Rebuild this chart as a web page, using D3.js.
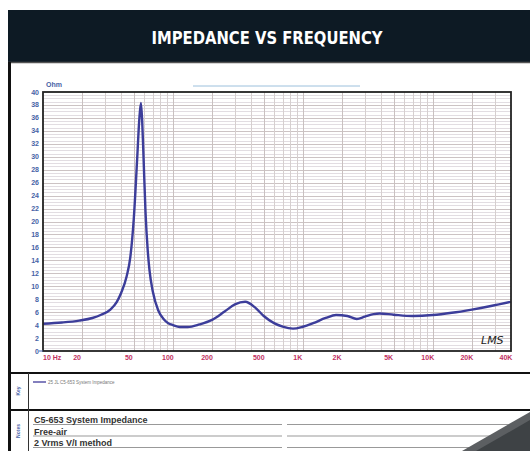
<!DOCTYPE html>
<html>
<head>
<meta charset="utf-8">
<script src="https://cdn.jsdelivr.net/npm/d3@7"></script>
<style>
  html, body { margin: 0; padding: 0; background: #fff; }
  svg { display: block; }
</style>
</head>
<body>
<div id="chart"></div>
<script>
const freqHz = [10, 14, 19, 24, 28, 33, 37, 40, 44, 47, 50, 53, 55, 56.7, 58, 59.5, 61.5, 64, 66, 70, 77, 85, 92, 100,
  113, 130, 160, 200, 250, 300, 360, 430, 500, 600, 700, 840, 1000, 1200, 1500, 1800, 2200, 2600, 3000, 3500, 3900,
  5000, 7000, 10000, 14000, 20000, 28000, 40000];
const impedance = [4.2, 4.4, 4.7, 5.1, 5.6, 6.4, 7.6, 9.0, 11.5, 14.5, 20.5, 29.5, 35.5, 38.3, 35.5, 29.5, 21.5, 15.5, 12.5, 9.2,
  6.3, 4.9, 4.3, 4.0, 3.7, 3.7, 4.1, 4.8, 6.1, 7.2, 7.6, 6.7, 5.4, 4.3, 3.75, 3.45, 3.75, 4.3, 5.1, 5.55, 5.4, 4.95, 5.3,
  5.7, 5.8, 5.6, 5.4, 5.55, 5.9, 6.4, 6.95, 7.6];

const yTicks = d3.range(0, 41, 2);
const xTickValues = [10, 20, 50, 100, 200, 500, 1000, 2000, 5000, 10000, 20000, 40000];
const xTickLabels = ['10 Hz', '20', '50', '100', '200', '500', '1K', '2K', '5K', '10K', '20K', '40K'];
const legendLabels = ['25  JL C5-653 System Impedance'];
const noteLines = ['C5-653 System Impedance', 'Free-air', '2 Vrms  V/I method'];

const W = 530, H = 451;
const plot = { left: 43, right: 511, top: 92, bottom: 351 };

const svg = d3.select('#chart').append('svg')
  .attr('width', W)
  .attr('height', H);

// header bar
svg.append('rect')
  .attr('x', 8).attr('y', 10)
  .attr('width', W - 8).attr('height', 52)
  .attr('fill', '#0d1a24');

svg.append('text')
  .attr('x', 267).attr('y', 44)
  .attr('text-anchor', 'middle')
  .attr('fill', '#fff')
  .attr('font-family', '"Liberation Sans Narrow", "DejaVu Sans Condensed", "Roboto", sans-serif')
  .attr('font-weight', 'bold')
  .attr('font-size', 18)
  .attr('textLength', 231)
  .attr('lengthAdjust', 'spacingAndGlyphs')
  .text('IMPEDANCE VS FREQUENCY');

// panel frame
svg.append('line').attr('x1', 8).attr('x2', W).attr('y1', 62.5).attr('y2', 62.5)
  .attr('stroke', '#555').attr('stroke-width', 1.5);
svg.append('line').attr('x1', 9.5).attr('x2', 9.5).attr('y1', 62).attr('y2', H)
  .attr('stroke', '#111').attr('stroke-width', 3);

// faint title line above the plot
svg.append('line').attr('x1', 193).attr('x2', 360).attr('y1', 86).attr('y2', 86)
  .attr('stroke', '#9cc0dc').attr('stroke-width', 1);

const x = d3.scaleLog().domain([10, 40000]).range([plot.left, plot.right]);
const y = d3.scaleLinear().domain([0, 40]).range([plot.bottom, plot.top]);

const grid = svg.append('g');

// horizontal grid
grid.selectAll('line.hmin')
  .data(d3.range(0.5, 40, 0.5).filter(v => v % 2 !== 0))
  .join('line')
  .attr('class', 'hmin')
  .attr('x1', plot.left).attr('x2', plot.right)
  .attr('y1', d => Math.round(y(d)) + 0.5).attr('y2', d => Math.round(y(d)) + 0.5)
  .attr('stroke', '#e2dde2').attr('stroke-width', 1);

grid.selectAll('line.hmaj')
  .data(yTicks.slice(1, -1))
  .join('line')
  .attr('class', 'hmaj')
  .attr('x1', plot.left).attr('x2', plot.right)
  .attr('y1', d => Math.round(y(d)) + 0.5).attr('y2', d => Math.round(y(d)) + 0.5)
  .attr('stroke', '#ccc3c4').attr('stroke-width', 1);

// vertical grid, 1-2-3..9 per decade
const vLines = [];
[10, 100, 1000, 10000].forEach(dec => {
  for (let k = 1; k < 10; k++) {
    const f = dec * k;
    if (f > 10 && f < 40000) vLines.push(f);
  }
});

grid.selectAll('line.v')
  .data(vLines)
  .join('line')
  .attr('class', 'v')
  .attr('x1', d => Math.round(x(d)) + 0.5).attr('x2', d => Math.round(x(d)) + 0.5)
  .attr('y1', plot.top).attr('y2', plot.bottom)
  .attr('stroke', d => xTickValues.includes(d) ? '#c9c0c0' : '#d6cfcf')
  .attr('stroke-width', 1);

// curve
const line = d3.line()
  .x((d, i) => x(freqHz[i]))
  .y(d => y(d))
  .curve(d3.curveMonotoneX);

svg.append('path')
  .datum(impedance)
  .attr('d', line)
  .attr('fill', 'none')
  .attr('stroke', '#3c3d9a')
  .attr('stroke-width', 2.4)
  .attr('stroke-linejoin', 'round');

// plot border
svg.append('rect')
  .attr('x', plot.left).attr('y', plot.top)
  .attr('width', plot.right - plot.left).attr('height', plot.bottom - plot.top)
  .attr('fill', 'none')
  .attr('stroke', '#222')
  .attr('stroke-width', 1.8);

// y axis labels
const yAxis = svg.append('g')
  .attr('font-family', '"Liberation Sans", Arial, sans-serif')
  .attr('font-size', 7)
  .attr('font-weight', 'bold')
  .attr('fill', '#4763a6');

yAxis.selectAll('text')
  .data(yTicks)
  .join('text')
  .attr('x', plot.left - 4)
  .attr('y', d => y(d) + 2.5)
  .attr('text-anchor', 'end')
  .text(d => d);

svg.append('line').attr('x1', plot.left - 4).attr('x2', plot.left).attr('y1', plot.bottom).attr('y2', plot.bottom)
  .attr('stroke', '#4763a6').attr('stroke-width', 1);

yAxis.append('text')
  .attr('x', plot.left + 3).attr('y', plot.top - 5)
  .text('Ohm');

// x axis labels
svg.append('g')
  .attr('font-family', '"Liberation Sans", Arial, sans-serif')
  .attr('font-size', 7)
  .attr('font-weight', 'bold')
  .attr('fill', '#c2305f')
  .selectAll('text')
  .data(xTickValues)
  .join('text')
  .attr('x', (d, i) => i === 0 ? x(d) : x(d) - 5)
  .attr('y', plot.bottom + 9)
  .attr('text-anchor', (d, i) => i === 0 ? 'start' : 'middle')
  .text((d, i) => xTickLabels[i]);

// LMS mark
svg.append('text')
  .attr('x', 481).attr('y', 344)
  .attr('font-family', '"DejaVu Sans", sans-serif')
  .attr('font-style', 'italic')
  .attr('font-size', 11)
  .attr('fill', '#222')
  .text('LMS');

// key / notes rows
const rowY = [373, 410];
rowY.forEach(yy => {
  svg.append('line').attr('x1', 9).attr('x2', W).attr('y1', yy).attr('y2', yy)
    .attr('stroke', '#111').attr('stroke-width', 2);
});
svg.append('line').attr('x1', 28.5).attr('x2', 28.5).attr('y1', 373).attr('y2', H)
  .attr('stroke', '#333').attr('stroke-width', 1);

[['Key', 391], ['Notes', 431]].forEach(([t, cy]) => {
  svg.append('text')
    .attr('transform', `translate(20,${cy}) rotate(-90)`)
    .attr('text-anchor', 'middle')
    .attr('font-family', '"Liberation Sans", Arial, sans-serif')
    .attr('font-size', 5)
    .attr('font-weight', 'bold')
    .attr('fill', '#4763a6')
    .text(t);
});

const legend = svg.append('g').attr('transform', 'translate(33,382)');
legend.append('line').attr('x1', 0).attr('x2', 13).attr('y1', 0).attr('y2', 0)
  .attr('stroke', '#5a55a8').attr('stroke-width', 1.5);
legend.selectAll('text')
  .data(legendLabels)
  .join('text')
  .attr('x', 15).attr('y', 2)
  .attr('font-family', '"Liberation Sans", Arial, sans-serif')
  .attr('font-size', 4.5)
  .attr('fill', '#777')
  .text(d => d);

const notes = svg.append('g');
noteLines.forEach((t, i) => {
  const by = 423 + i * 11.5;
  notes.append('line').attr('x1', 33).attr('x2', 282).attr('y1', by + 1.5).attr('y2', by + 1.5)
    .attr('stroke', '#999').attr('stroke-width', 1);
  notes.append('line').attr('x1', 287).attr('x2', W).attr('y1', by + 1.5).attr('y2', by + 1.5)
    .attr('stroke', '#999').attr('stroke-width', 1);
  notes.append('text')
    .attr('x', 34).attr('y', by)
    .attr('font-family', '"Liberation Sans", Arial, sans-serif')
    .attr('font-size', 9)
    .attr('font-weight', 'bold')
    .attr('fill', '#333')
    .text(t);
});

// corner object
svg.append('polygon')
  .attr('points', '462,451 530,412 530,451')
  .attr('fill', '#5c5f62');
svg.append('polygon')
  .attr('points', '476,451 530,420 530,451')
  .attr('fill', '#3e4245');
</script>
</body>
</html>
